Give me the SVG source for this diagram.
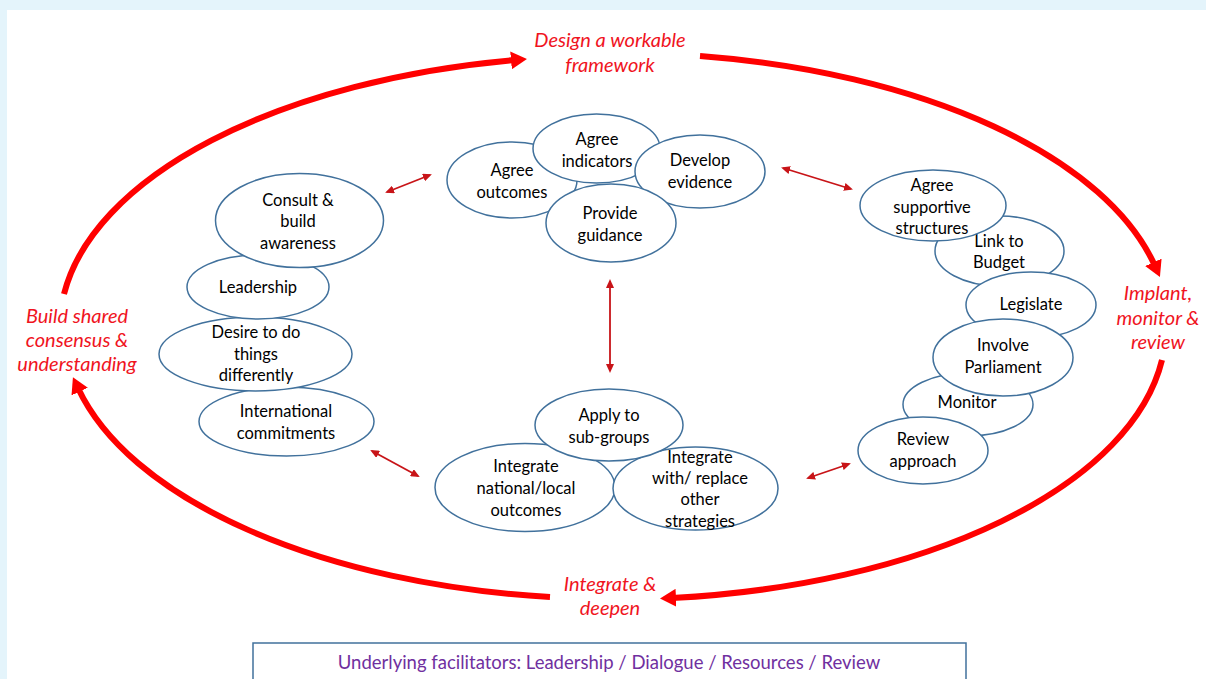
<svg xmlns="http://www.w3.org/2000/svg" width="1206" height="679" viewBox="0 0 1206 679">
  <defs>
    <style>
      .node ellipse { fill: #ffffff; stroke: #41719c; stroke-width: 1.5; }
      .node text { font-family: Lato, "Liberation Sans", sans-serif; font-size: 16.5px; fill: #000000; text-anchor: middle; }
      .cycle { fill: none; stroke: #ff0000; stroke-width: 6; marker-end: url(#bigHead); }
      .link { fill: none; stroke: #c81418; stroke-width: 1.8; marker-start: url(#smallHead); marker-end: url(#smallHead); }
      .stage { font-family: Lato, "Liberation Sans", sans-serif; font-size: 20px; font-style: italic; fill: #f0141e; text-anchor: middle; }
      .footer { font-family: Lato, "Liberation Sans", sans-serif; font-size: 18.5px; fill: #7030a0; text-anchor: middle; }
    </style>
    <marker id="bigHead" viewBox="0 0 16 18" refX="4" refY="9" markerWidth="16" markerHeight="18" markerUnits="userSpaceOnUse" orient="auto">
      <path d="M0,0 L16,9 L0,18 Z" fill="#ff0000"/>
    </marker>
    <marker id="smallHead" viewBox="0 0 9 8" refX="7" refY="4" markerWidth="9" markerHeight="8" markerUnits="userSpaceOnUse" orient="auto-start-reverse">
      <path d="M0,0 L9,4 L0,8 Z" fill="#c81418"/>
    </marker>
  </defs>

  <!-- page background and panel -->
  <rect x="0" y="0" width="1206" height="679" fill="#e4f4fb"/>
  <rect x="7" y="10" width="1199" height="669" fill="#ffffff"/>

  <!-- outer cycle and inner links -->
  <g id="connectors">
    <path class="cycle" d="M 64 294 A 551 272 0 0 1 515 60"/>
    <path class="cycle" d="M 700 56 A 551 272 0 0 1 1155 266"/>
    <path class="cycle" d="M 1162 360 A 551 272 0 0 1 672 598"/>
    <path class="cycle" d="M 550 597 A 551 272 0 0 1 78 388"/>

    <line class="link" x1="387" y1="192" x2="430" y2="175"/>
    <line class="link" x1="783" y1="168" x2="851" y2="189"/>
    <line class="link" x1="610" y1="281" x2="610" y2="371"/>
    <line class="link" x1="372" y1="451" x2="418" y2="476"/>
    <line class="link" x1="808" y1="478" x2="849" y2="464"/>
  </g>

  <!-- stage labels on the cycle -->
  <g id="stage-design">
    <text class="stage" x="610" y="47">Design a workable</text>
    <text class="stage" x="610" y="72">framework</text>
  </g>
  <g id="stage-implant">
    <text class="stage" x="1158" y="300">Implant,</text>
    <text class="stage" x="1158" y="325">monitor &amp;</text>
    <text class="stage" x="1158" y="349">review</text>
  </g>
  <g id="stage-integrate">
    <text class="stage" x="610" y="591">Integrate &amp;</text>
    <text class="stage" x="610" y="615">deepen</text>
  </g>
  <g id="stage-build">
    <text class="stage" x="77" y="323">Build shared</text>
    <text class="stage" x="77" y="347">consensus &amp;</text>
    <text class="stage" x="77" y="371">understanding</text>
  </g>

  <!-- left cluster -->
  <g id="international" class="node">
    <ellipse cx="286.5" cy="421.5" rx="87.5" ry="34.5"/>
    <text x="286" y="417">International</text>
    <text x="286" y="439">commitments</text>
  </g>
  <g id="desire" class="node">
    <ellipse cx="255.5" cy="354" rx="96.5" ry="37"/>
    <text x="256" y="338">Desire to do</text>
    <text x="256" y="360">things</text>
    <text x="256" y="381">differently</text>
  </g>
  <g id="leadership" class="node">
    <ellipse cx="258" cy="287" rx="71" ry="32"/>
    <text x="258" y="293">Leadership</text>
  </g>
  <g id="consult" class="node">
    <ellipse cx="299.5" cy="220.5" rx="84" ry="47"/>
    <text x="298" y="206">Consult &amp;</text>
    <text x="298" y="227">build</text>
    <text x="298" y="249">awareness</text>
  </g>

  <!-- top cluster -->
  <g id="agree-outcomes" class="node">
    <ellipse cx="512" cy="180" rx="65" ry="38"/>
    <text x="512" y="176">Agree</text>
    <text x="512" y="198">outcomes</text>
  </g>
  <g id="agree-indicators" class="node">
    <ellipse cx="596.5" cy="148.5" rx="63.5" ry="34.5"/>
    <text x="597" y="145">Agree</text>
    <text x="597" y="167">indicators</text>
  </g>
  <g id="develop-evidence" class="node">
    <ellipse cx="700" cy="171.5" rx="65" ry="36.5"/>
    <text x="700" y="166">Develop</text>
    <text x="700" y="188">evidence</text>
  </g>
  <g id="provide-guidance" class="node">
    <ellipse cx="611" cy="223" rx="65" ry="39"/>
    <text x="610" y="219">Provide</text>
    <text x="610" y="241">guidance</text>
  </g>

  <!-- right cluster -->
  <g id="link-budget" class="node">
    <ellipse cx="999.5" cy="251" rx="64.5" ry="35"/>
    <text x="999" y="247">Link to</text>
    <text x="999" y="268">Budget</text>
  </g>
  <g id="agree-structures" class="node">
    <ellipse cx="933" cy="205.5" rx="73" ry="35.5"/>
    <text x="932" y="191">Agree</text>
    <text x="932" y="213">supportive</text>
    <text x="932" y="234">structures</text>
  </g>
  <g id="legislate" class="node">
    <ellipse cx="1031" cy="305" rx="65" ry="33"/>
    <text x="1031" y="310">Legislate</text>
  </g>
  <g id="monitor" class="node">
    <ellipse cx="968" cy="404.5" rx="65" ry="31.5"/>
    <text x="967" y="408">Monitor</text>
  </g>
  <g id="involve-parliament" class="node">
    <ellipse cx="1003" cy="357.5" rx="70" ry="38.5"/>
    <text x="1003" y="351">Involve</text>
    <text x="1003" y="373">Parliament</text>
  </g>
  <g id="review-approach" class="node">
    <ellipse cx="923" cy="450.5" rx="65" ry="33.5"/>
    <text x="923" y="445">Review</text>
    <text x="923" y="467">approach</text>
  </g>

  <!-- bottom cluster -->
  <g id="integrate-national" class="node">
    <ellipse cx="525" cy="487.5" rx="90" ry="44"/>
    <text x="526" y="472">Integrate</text>
    <text x="526" y="494">national/local</text>
    <text x="526" y="516">outcomes</text>
  </g>
  <g id="integrate-replace" class="node">
    <ellipse cx="695.5" cy="488.5" rx="82.5" ry="41.5"/>
    <text x="700" y="463">Integrate</text>
    <text x="700" y="484">with/ replace</text>
    <text x="700" y="505">other</text>
    <text x="700" y="527">strategies</text>
  </g>
  <g id="apply-subgroups" class="node">
    <ellipse cx="609" cy="425" rx="74" ry="36"/>
    <text x="609" y="421">Apply to</text>
    <text x="609" y="443">sub-groups</text>
  </g>

  <!-- facilitators banner -->
  <g id="facilitators">
    <rect x="253" y="643" width="713" height="50" fill="#ffffff" stroke="#41719c" stroke-width="1.5"/>
    <text class="footer" x="609" y="669">Underlying facilitators: Leadership  / Dialogue / Resources / Review</text>
  </g>
</svg>
